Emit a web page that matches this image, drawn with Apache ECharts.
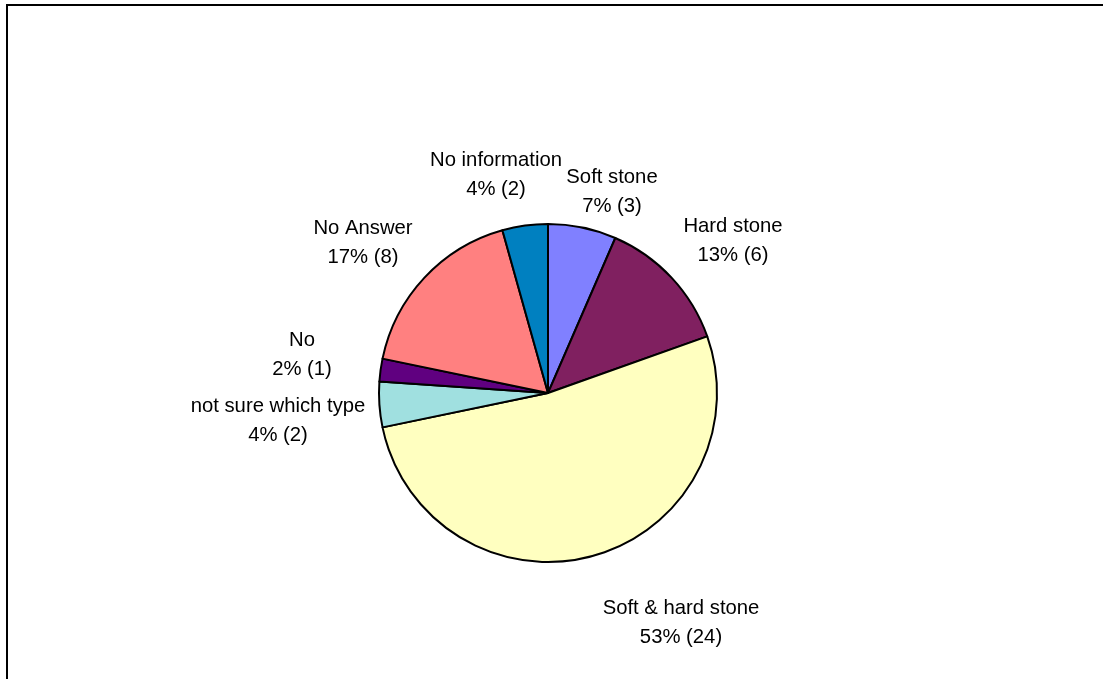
<!DOCTYPE html>
<html>
<head>
<meta charset="utf-8">
<script src="https://cdn.jsdelivr.net/npm/echarts@6/dist/echarts.min.js"></script>
<style>
  html, body { margin: 0; padding: 0; background: #fff; }
  #chart { width: 1103px; height: 679px; }
</style>
</head>
<body>
<div id="chart"></div>
<script>
// Stone type survey responses, clockwise from 12 o'clock
const categories = ['Soft stone', 'Hard stone', 'Soft & hard stone', 'not sure which type', 'No', 'No Answer', 'No information'];
const counts = [3, 6, 24, 2, 1, 8, 2];
const percentLabels = ['7%', '13%', '53%', '4%', '2%', '17%', '4%'];
const sliceColors = ['#8080FF', '#802060', '#FFFFC0', '#A0E0E0', '#600080', '#FF8080', '#0080C0'];

// Pie geometry
const pieCenter = [548, 393];
const pieRadius = 169;

// Label centres, as offsets from the pie centre
const labelOffsets = [
  [64, -201],
  [185, -152],
  [133, 230],
  [-270, 28],
  [-246, -38],
  [-185, -150],
  [-52, -218]
];

const chart = echarts.init(document.getElementById('chart'), null, { renderer: 'canvas' });

chart.setOption({
  animation: false,
  backgroundColor: '#ffffff',
  graphic: [{
    type: 'rect',
    shape: { x: 7, y: 5, width: 1200, height: 800 },
    style: { fill: 'none', stroke: '#000', lineWidth: 2 },
    silent: true
  }],
  series: [{
    type: 'pie',
    center: pieCenter,
    radius: pieRadius,
    startAngle: 90,
    clockwise: true,
    avoidLabelOverlap: false,
    data: categories.map((name, i) => ({
      name: name,
      value: counts[i],
      itemStyle: { color: sliceColors[i] }
    })),
    itemStyle: { borderColor: '#000', borderWidth: 2 },
    label: {
      show: true,
      position: 'outside',
      color: '#000',
      fontFamily: '"Liberation Sans", Arial, sans-serif',
      fontSize: 20.3,
      lineHeight: 29,
      align: 'center',
      formatter: p => p.name + '\n' + percentLabels[p.dataIndex] + ' (' + p.value + ')'
    },
    labelLine: { show: false },
    labelLayout: p => {
      const off = labelOffsets[p.dataIndex];
      return {
        x: pieCenter[0] + off[0],
        y: pieCenter[1] + off[1],
        align: 'center',
        verticalAlign: 'middle'
      };
    },
    emphasis: { disabled: true }
  }]
});
</script>
</body>
</html>
